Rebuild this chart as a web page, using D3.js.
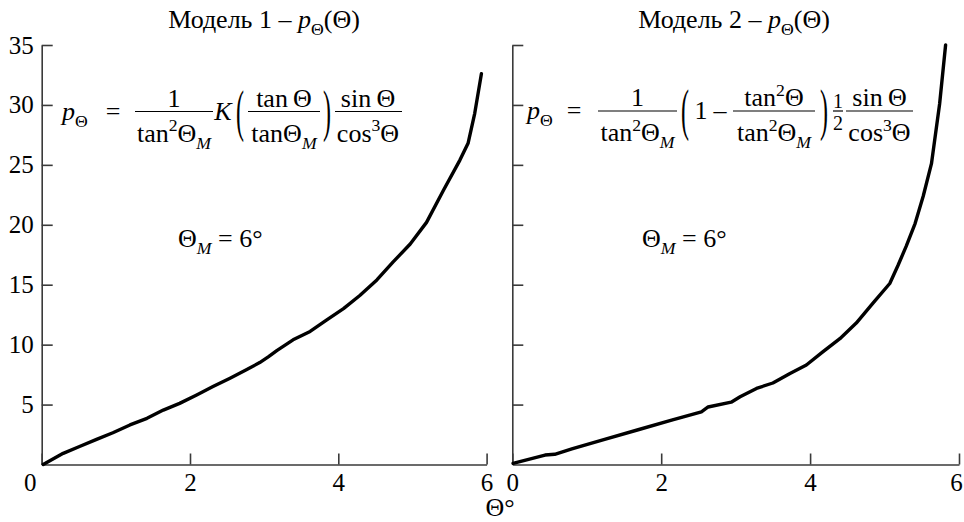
<!DOCTYPE html>
<html><head><meta charset="utf-8">
<script src="https://cdn.jsdelivr.net/npm/d3@7"></script>
<style>
html,body{margin:0;padding:0;background:#fff;}
svg{display:block;}
text{white-space:pre;fill:#000;font-family:"Liberation Serif","Tinos","DejaVu Serif","Times New Roman",serif;}
</style></head>
<body><svg id="c" width="964" height="522"></svg>
<script>
// ---- data ----
const theta1 = [0.02,0.29,0.51,0.74,0.96,1.19,1.42,1.64,1.86,2.09,2.31,2.54,2.76,2.94,3.06,3.17,3.39,3.62,3.84,4.07,4.29,4.52,4.74,4.97,5.19,5.42,5.64,5.75,5.84,5.93];
const p1     = [0,0.93,1.5,2.1,2.65,3.3,3.85,4.54,5.1,5.8,6.5,7.2,7.9,8.5,9.0,9.5,10.4,11.1,12.05,13.0,14.1,15.4,16.9,18.4,20.2,22.9,25.4,26.8,29.3,32.6];
const theta2 = [0.01,0.44,0.57,0.8,1.24,1.69,2.14,2.54,2.63,2.94,3.06,3.28,3.5,3.73,3.95,4.17,4.4,4.62,4.85,5.07,5.18,5.29,5.41,5.52,5.63,5.74,5.82];
const p2     = [0.1,0.79,0.85,1.3,2.1,2.9,3.7,4.4,4.8,5.2,5.65,6.35,6.8,7.6,8.3,9.4,10.5,11.8,13.5,15.1,16.6,18.2,20.1,22.4,25.1,30.1,35.0];
const xTicks = [0,2,4,6];
const yTicks = [5,10,15,20,25,30,35];
const titles = ["Модель 1 – ","Модель 2 – "];
const xLabel = "Θ°";
const thetaM = " = 6°";

const FONT = '"Liberation Serif","Tinos","DejaVu Serif","Times New Roman",serif';
const svg = d3.select("#c").attr("font-family", FONT);
const y = d3.scaleLinear().domain([0,35]).range([464.5,45]);
const xs = [d3.scaleLinear().domain([0,6]).range([41.7,486.6]),
            d3.scaleLinear().domain([0,6]).range([512.3,959])];
const axisColor = "#3a3a3a";

function rich(parent, x, yy, size, anchor, segs){
  const t = parent.append("text").attr("x",x).attr("y",yy).attr("font-size",size).attr("text-anchor",anchor).attr("font-family",FONT);
  let off = 0;
  segs.forEach(([s, st=""]) => {
    const isSub = st.startsWith("sub"), isSup = st.startsWith("sup");
    const target = isSub ? size*0.28 : isSup ? -size*0.4 : 0;
    const ts = t.append("tspan").text(s).attr("dy", target-off);
    off = target;
    if (isSub || isSup) ts.attr("font-size", size*0.68);
    if (st.endsWith("i")) ts.attr("font-style","italic");
  });
  return t;
}

[0,1].forEach(k => {
  const x = xs[k];
  const g = svg.append("g");
  const ya = d3.axisLeft(y).tickValues(yTicks).tickFormat(d3.format("d")).tickSizeInner(-11).tickSizeOuter(0).tickPadding(8);
  const yg = g.append("g").attr("transform",`translate(${x(0)},0)`).call(ya).attr("font-family",FONT).attr("font-size",25);
  yg.selectAll("text").attr("fill","#000");
  if (k===1) yg.selectAll("text").remove();
  const xa = d3.axisBottom(x).tickValues(xTicks).tickFormat(d3.format("d")).tickSizeInner(-11).tickSizeOuter(0).tickPadding(9);
  const xg = g.append("g").attr("transform",`translate(0,${y(0)})`).call(xa).attr("font-family",FONT).attr("font-size",25);
  xg.selectAll("text").attr("fill","#000");
  if (k===0) xg.selectAll(".tick text").filter(d=>d===0).attr("dx",-12);
  if (k===1) xg.selectAll(".tick text").filter(d=>d===6).attr("dx",-3);
  [yg,xg].forEach(a=>{
    a.selectAll("path,line").attr("stroke",axisColor).attr("stroke-width",1.6);
  });
  const th = k===0?theta1:theta2, pv = k===0?p1:p2;
  const pts = th.map((t,i)=>[t,pv[i]]);
  g.append("path").datum(pts)
    .attr("fill","none").attr("stroke","#000").attr("stroke-width",3.4)
    .attr("stroke-linejoin","round").attr("stroke-linecap","round")
    .attr("d", d3.line().x(d=>x(d[0])).y(d=>y(d[1])));
  rich(g, k===0?264:734, 28, 26, "middle", [[titles[k]],["p","i"],["Θ","sub"],["(Θ)"]]);
  rich(g, k===0?178:642, 247, 26, "start", [["Θ"],["M","subi"],[thetaM]]);
});

svg.append("text").attr("x",500).attr("y",516).attr("font-size",26).attr("text-anchor","middle").text(xLabel);

// ---- formulas ----
const fsz = 26;
function bar(x1,x2,fy){ svg.append("line").attr("x1",x1).attr("x2",x2).attr("y1",fy).attr("y2",fy).attr("stroke","#000").attr("stroke-width",1.2); }
function txt(x,yy,s,it,sz){ const t=svg.append("text").attr("x",x).attr("y",yy).attr("font-size",sz||fsz).attr("text-anchor","middle").text(s); if(it) t.attr("font-style","italic"); return t; }
function paren(ch,x,fy){
  svg.append("text").attr("font-size",24).attr("text-anchor","middle")
    .attr("transform",`translate(${x},${fy+18}) scale(1,2.4)`).text(ch);
}
{
  const fy = 111.5, base = fy+8, num = fy-5, den = fy+30;
  rich(svg, 62, base, fsz, "start", [["p","i"],["Θ","sub"]]);
  txt(113,base,"=");
  bar(135,213,fy);
  txt(174,num,"1");
  rich(svg,174,den,fsz,"middle",[["tan"],["2","sup"],["Θ"],["M","subi"]]);
  txt(223,base,"K",true);
  paren("(",240,fy);
  bar(248,320,fy);
  rich(svg,284,num,fsz,"middle",[["tan\u2009Θ"]]);
  rich(svg,284,den,fsz,"middle",[["tanΘ"],["M","subi"]]);
  paren(")",327,fy);
  bar(335,402,fy);
  rich(svg,368,num,fsz,"middle",[["sin\u2009Θ"]]);
  rich(svg,368,den,fsz,"middle",[["cos"],["3","sup"],["Θ"]]);
}
{
  const fy = 111, base = fy+8, num = fy-5, den = fy+30;
  rich(svg, 527, base, fsz, "start", [["p","i"],["Θ","sub"]]);
  txt(574,base,"=");
  bar(598,677,fy);
  txt(637.5,num,"1");
  rich(svg,637.5,den,fsz,"middle",[["tan"],["2","sup"],["Θ"],["M","subi"]]);
  paren("(",685,fy);
  txt(701,base,"1");
  txt(720,base,"–");
  bar(733,815,fy);
  rich(svg,774,num,fsz,"middle",[["tan"],["2","sup"],["Θ"]]);
  rich(svg,774,den,fsz,"middle",[["tan"],["2","sup"],["Θ"],["M","subi"]]);
  paren(")",824,fy);
  txt(838,fy-3,"1",false,20);
  bar(833,843,fy);
  txt(838,fy+19,"2",false,20);
  bar(846,913,fy);
  rich(svg,879.5,num,fsz,"middle",[["sin\u2009Θ"]]);
  rich(svg,879.5,den,fsz,"middle",[["cos"],["3","sup"],["Θ"]]);
}
</script></body></html>
